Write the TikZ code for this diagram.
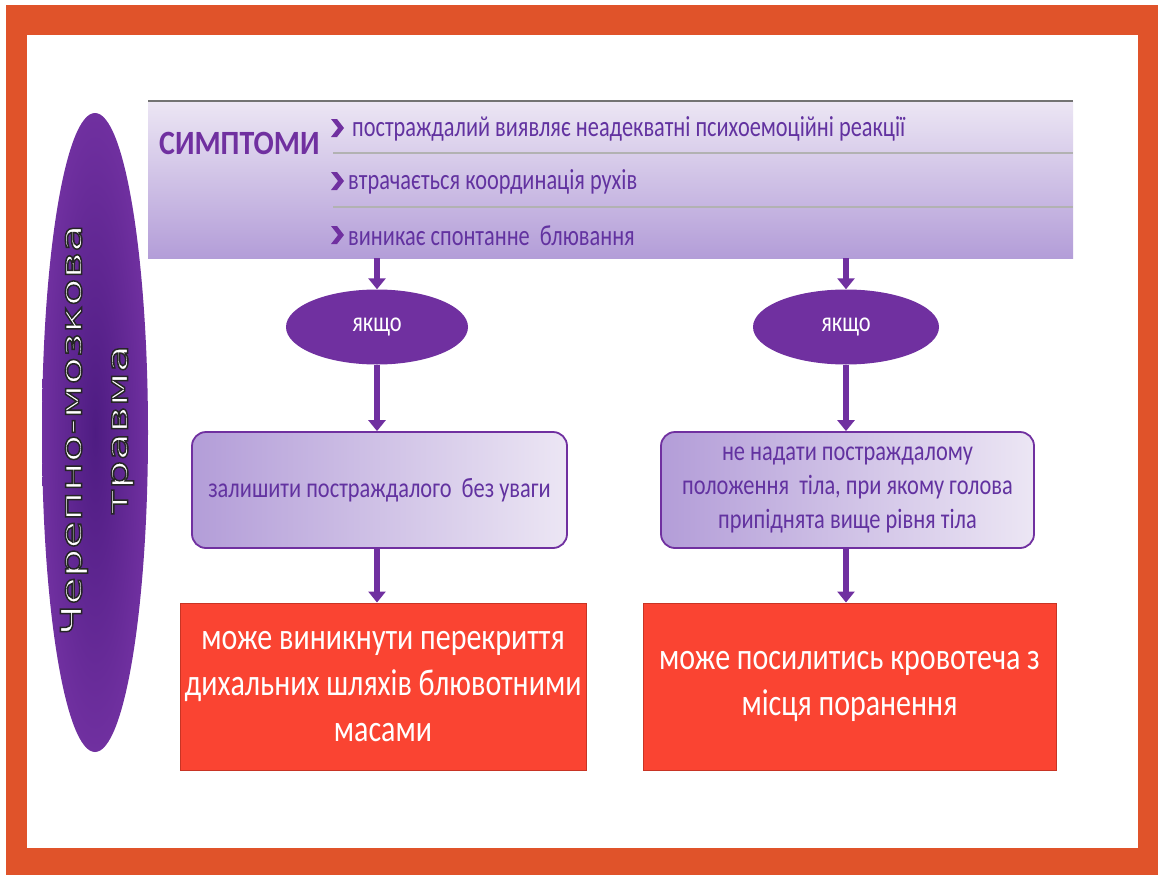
\documentclass[tikz,border=0pt]{standalone}
\usepackage{fontspec}
\setmainfont{Carlito}
\newfontfamily\cond[FakeStretch=0.8]{Carlito}
\newfontfamily\symfont[FakeStretch=0.77]{Carlito}
\newfontfamily\headfont[FakeStretch=0.88]{Carlito}
\newfontfamily\vertfont[FakeStretch=1.55]{DejaVu Sans}
\usetikzlibrary{shapes.geometric,arrows.meta}
\definecolor{frameor}{HTML}{E0532A}
\definecolor{pur}{HTML}{7030A0}
\definecolor{darkpur}{HTML}{4E1C82}
\definecolor{txtpur}{HTML}{6232A0}
\definecolor{lavlight}{HTML}{ECE6F4}
\definecolor{lavdark}{HTML}{B39DD8}
\definecolor{redbox}{HTML}{FA4432}
\definecolor{redline}{HTML}{C83424}
\newcommand{\outlinedtext}[1]{\special{pdf:code 0.15 0.15 0.15 RG 2 Tr 1.5 w}#1\special{pdf:code 0 Tr}}
\tikzset{
  arr/.style={draw=pur, line width=5.5pt, -{Triangle[width=17pt,length=11pt]}},
  bandbox/.style={rectangle, draw=none, top color=lavlight, bottom color=lavdark, inner sep=0pt},
  lavbox/.style={rectangle, rounded corners=14pt, draw=pur, line width=1.8pt, left color=lavdark, right color=lavlight, inner sep=0pt, align=center, text=txtpur, font=\cond\fontsize{28}{34}\selectfont},
  redbx/.style={rectangle, fill=redbox, draw=redline, line width=1pt, inner sep=0pt, align=center, text=white, font=\cond\fontsize{37.5}{46}\selectfont},
  ifnode/.style={ellipse, fill=pur, inner sep=0pt, text=white, font=\cond\fontsize{28}{30}\selectfont},
  symtext/.style={anchor=west, inner sep=0pt, text=txtpur, font=\symfont\fontsize{29}{30}\selectfont},
  chev/.style={fill=pur},
  sepline/.style={draw=black!30, line width=2pt}
}
\begin{document}
\begin{tikzpicture}[x=1pt,y=-1pt]
\useasboundingbox (0,0) rectangle (1158,875);
\fill[white] (0,0) rectangle (1158,875);
\fill[frameor] (6,5) rectangle (1158,875);
\fill[white] (27,35) rectangle (1138,848);

% left big ellipse
\node[ellipse, inner sep=0pt, minimum width=106, minimum height=639, inner color=darkpur, outer color=pur] (tbi) at (95,432.5) {};
\node[rotate=90, align=center, inner sep=0pt, text=white, font=\vertfont\fontsize{29}{46}\selectfont] (tbitext) at (97,430) {\outlinedtext{Черепно-мозкова}\\\outlinedtext{травма}};

% symptoms band
\node[bandbox, minimum width=925, minimum height=157, anchor=north west] (symp) at (148,101) {};
\draw[draw=black!55, line width=2.5pt] (symp.north west) -- (symp.north east);
\draw[sepline] (333,153) -- (1073,153);
\draw[sepline] (333,207) -- (1073,207);
\node[anchor=west, inner sep=0pt, text=pur, font=\headfont\bfseries\fontsize{34}{36}\selectfont] (symhead) at (159,143) {СИМПТОМИ};
\fill[chev] (331,119) -- (337,119) -- (344,128) -- (337,137) -- (331,137) -- (338,128) -- cycle;
\fill[chev] (331,172) -- (337,172) -- (344,181) -- (337,190) -- (331,190) -- (338,181) -- cycle;
\fill[chev] (331,226) -- (337,226) -- (344,235) -- (337,244) -- (331,244) -- (338,235) -- cycle;
\node[symtext] (s1) at (352,129) {постраждалий виявляє неадекватні психоемоційні реакції};
\node[symtext] (s2) at (348,182) {втрачається координація рухів};
\node[symtext] (s3) at (348,236) {виникає спонтанне~ блювання};

% if nodes
\node[ifnode, minimum width=182, minimum height=75] (if1) at (377,327) {якщо};
\node[ifnode, minimum width=186, minimum height=75] (if2) at (846,327) {якщо};

% lavender boxes
\node[lavbox, minimum width=375, minimum height=116] (b1) at (379.5,490) {залишити постраждалого~ без уваги};
\node[lavbox, minimum width=373, minimum height=116] (b2) at (847.5,490) {не надати постраждалому\\положення~ тіла, при якому голова\\припіднята вище рівня тіла};

% red boxes
\node[redbx, minimum width=406, minimum height=167] (r1) at (383,686.5) {може виникнути перекриття\\дихальних шляхів блювотними\\масами};
\node[redbx, minimum width=413, minimum height=167] (r2) at (849.5,686.5) {може посилитись кровотеча з\\місця поранення};

% arrows
\draw[arr] (if1 |- symp.south) -- (if1.north);
\draw[arr] (if2 |- symp.south) -- (if2.north);
\draw[arr] (if1.south) -- (if1 |- b1.north);
\draw[arr] (if2.south) -- (if2 |- b2.north);
\draw[arr] (if1 |- b1.south) -- (if1 |- r1.north);
\draw[arr] (if2 |- b2.south) -- (if2 |- r2.north);
\end{tikzpicture}
\end{document}
